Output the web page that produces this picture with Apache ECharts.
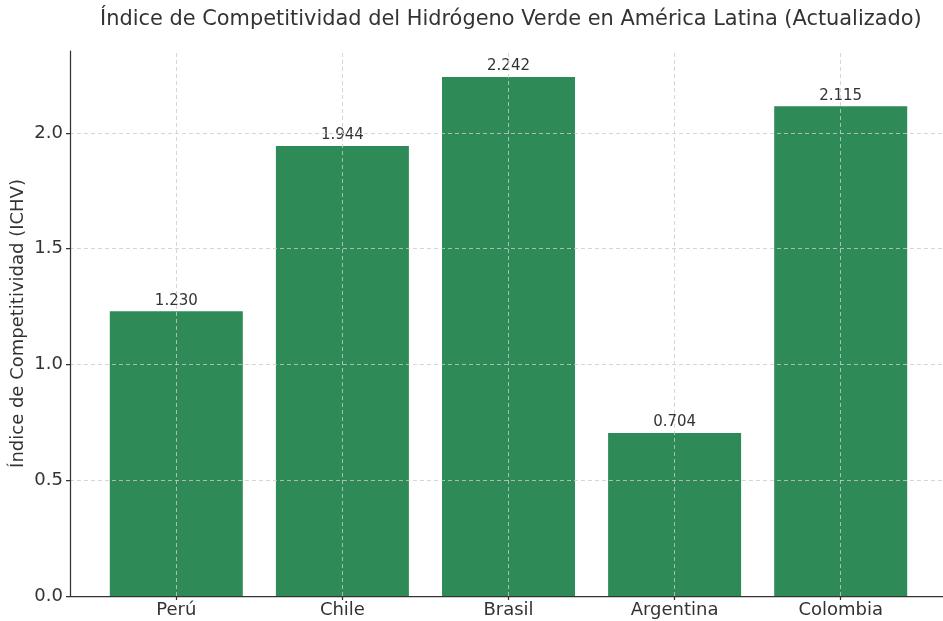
<!DOCTYPE html>
<html>
<head>
<meta charset="utf-8">
<script src="https://cdn.jsdelivr.net/npm/echarts@6/dist/echarts.min.js"></script>
<style>
  html, body { margin: 0; padding: 0; background: #fff; }
  #chart { width: 943px; height: 621px; }
</style>
</head>
<body>
<div id="chart"></div>
<script>
const countries = ['Perú', 'Chile', 'Brasil', 'Argentina', 'Colombia']
const ichv = [1.230, 1.944, 2.242, 0.704, 2.115]
const yTicks = [0, 0.5, 1.0, 1.5, 2.0]

const font = 'DejaVu Sans'
const chart = echarts.init(document.getElementById('chart'))

const positions = countries.map((_, i) => i)

const option = {
  backgroundColor: '#fff',
  animation: false,
  title: {
    text: 'Índice de Competitividad del Hidrógeno Verde en América Latina (Actualizado)',
    left: 95,
    top: 4,
    textStyle: { fontFamily: font, fontSize: 20.9, fontWeight: 'normal', color: '#333' }
  },
  grid: { left: 70, right: -4, top: 51, bottom: 25, outerBoundsMode: 'none' },
  xAxis: {
    type: 'value',
    min: -0.64,
    max: 4.64,
    z: 10,
    axisLine: { show: true, onZero: false, lineStyle: { color: '#333', width: 1.25 } },
    axisTick: { show: true, customValues: positions, length: 4, lineStyle: { color: '#333', width: 1.25 } },
    axisLabel: {
      customValues: positions,
      formatter: v => countries[Math.round(v)],
      fontFamily: font, fontSize: 18, color: '#333', margin: 5
    },
    splitLine: { show: false }
  },
  yAxis: {
    type: 'value',
    min: 0,
    max: 2.354,
    z: 10,
    name: 'Índice de Competitividad (ICHV)',
    nameLocation: 'middle',
    nameGap: 43,
    nameMoveOverlap: false,
    nameTextStyle: { fontFamily: font, fontSize: 18, color: '#333' },
    axisLine: { show: true, onZero: false, lineStyle: { color: '#333', width: 1.25 } },
    axisTick: { show: true, customValues: yTicks, length: 4, lineStyle: { color: '#333', width: 1.25 } },
    axisLabel: {
      customValues: yTicks,
      formatter: v => v.toFixed(1),
      fontFamily: font, fontSize: 18, color: '#333', margin: 7
    },
    splitLine: { show: false }
  },
  series: [
    {
      type: 'bar',
      data: countries.map((c, i) => [i, ichv[i]]),
      barWidth: 133,
      itemStyle: { color: '#2e8b57' },
      label: {
        show: true,
        position: 'top',
        distance: 3,
        formatter: p => p.value[1].toFixed(3),
        fontFamily: font, fontSize: 15, color: '#333'
      },
      markLine: {
        silent: true,
        symbol: 'none',
        z: 5,
        label: { show: false },
        lineStyle: { color: '#ccc', type: [4, 3], width: 0.8 },
        data: [
          ...positions.map(p => ({ xAxis: p })),
          ...yTicks.map(v => ({ yAxis: v }))
        ]
      }
    }
  ]
}

chart.setOption(option)
</script>
</body>
</html>
